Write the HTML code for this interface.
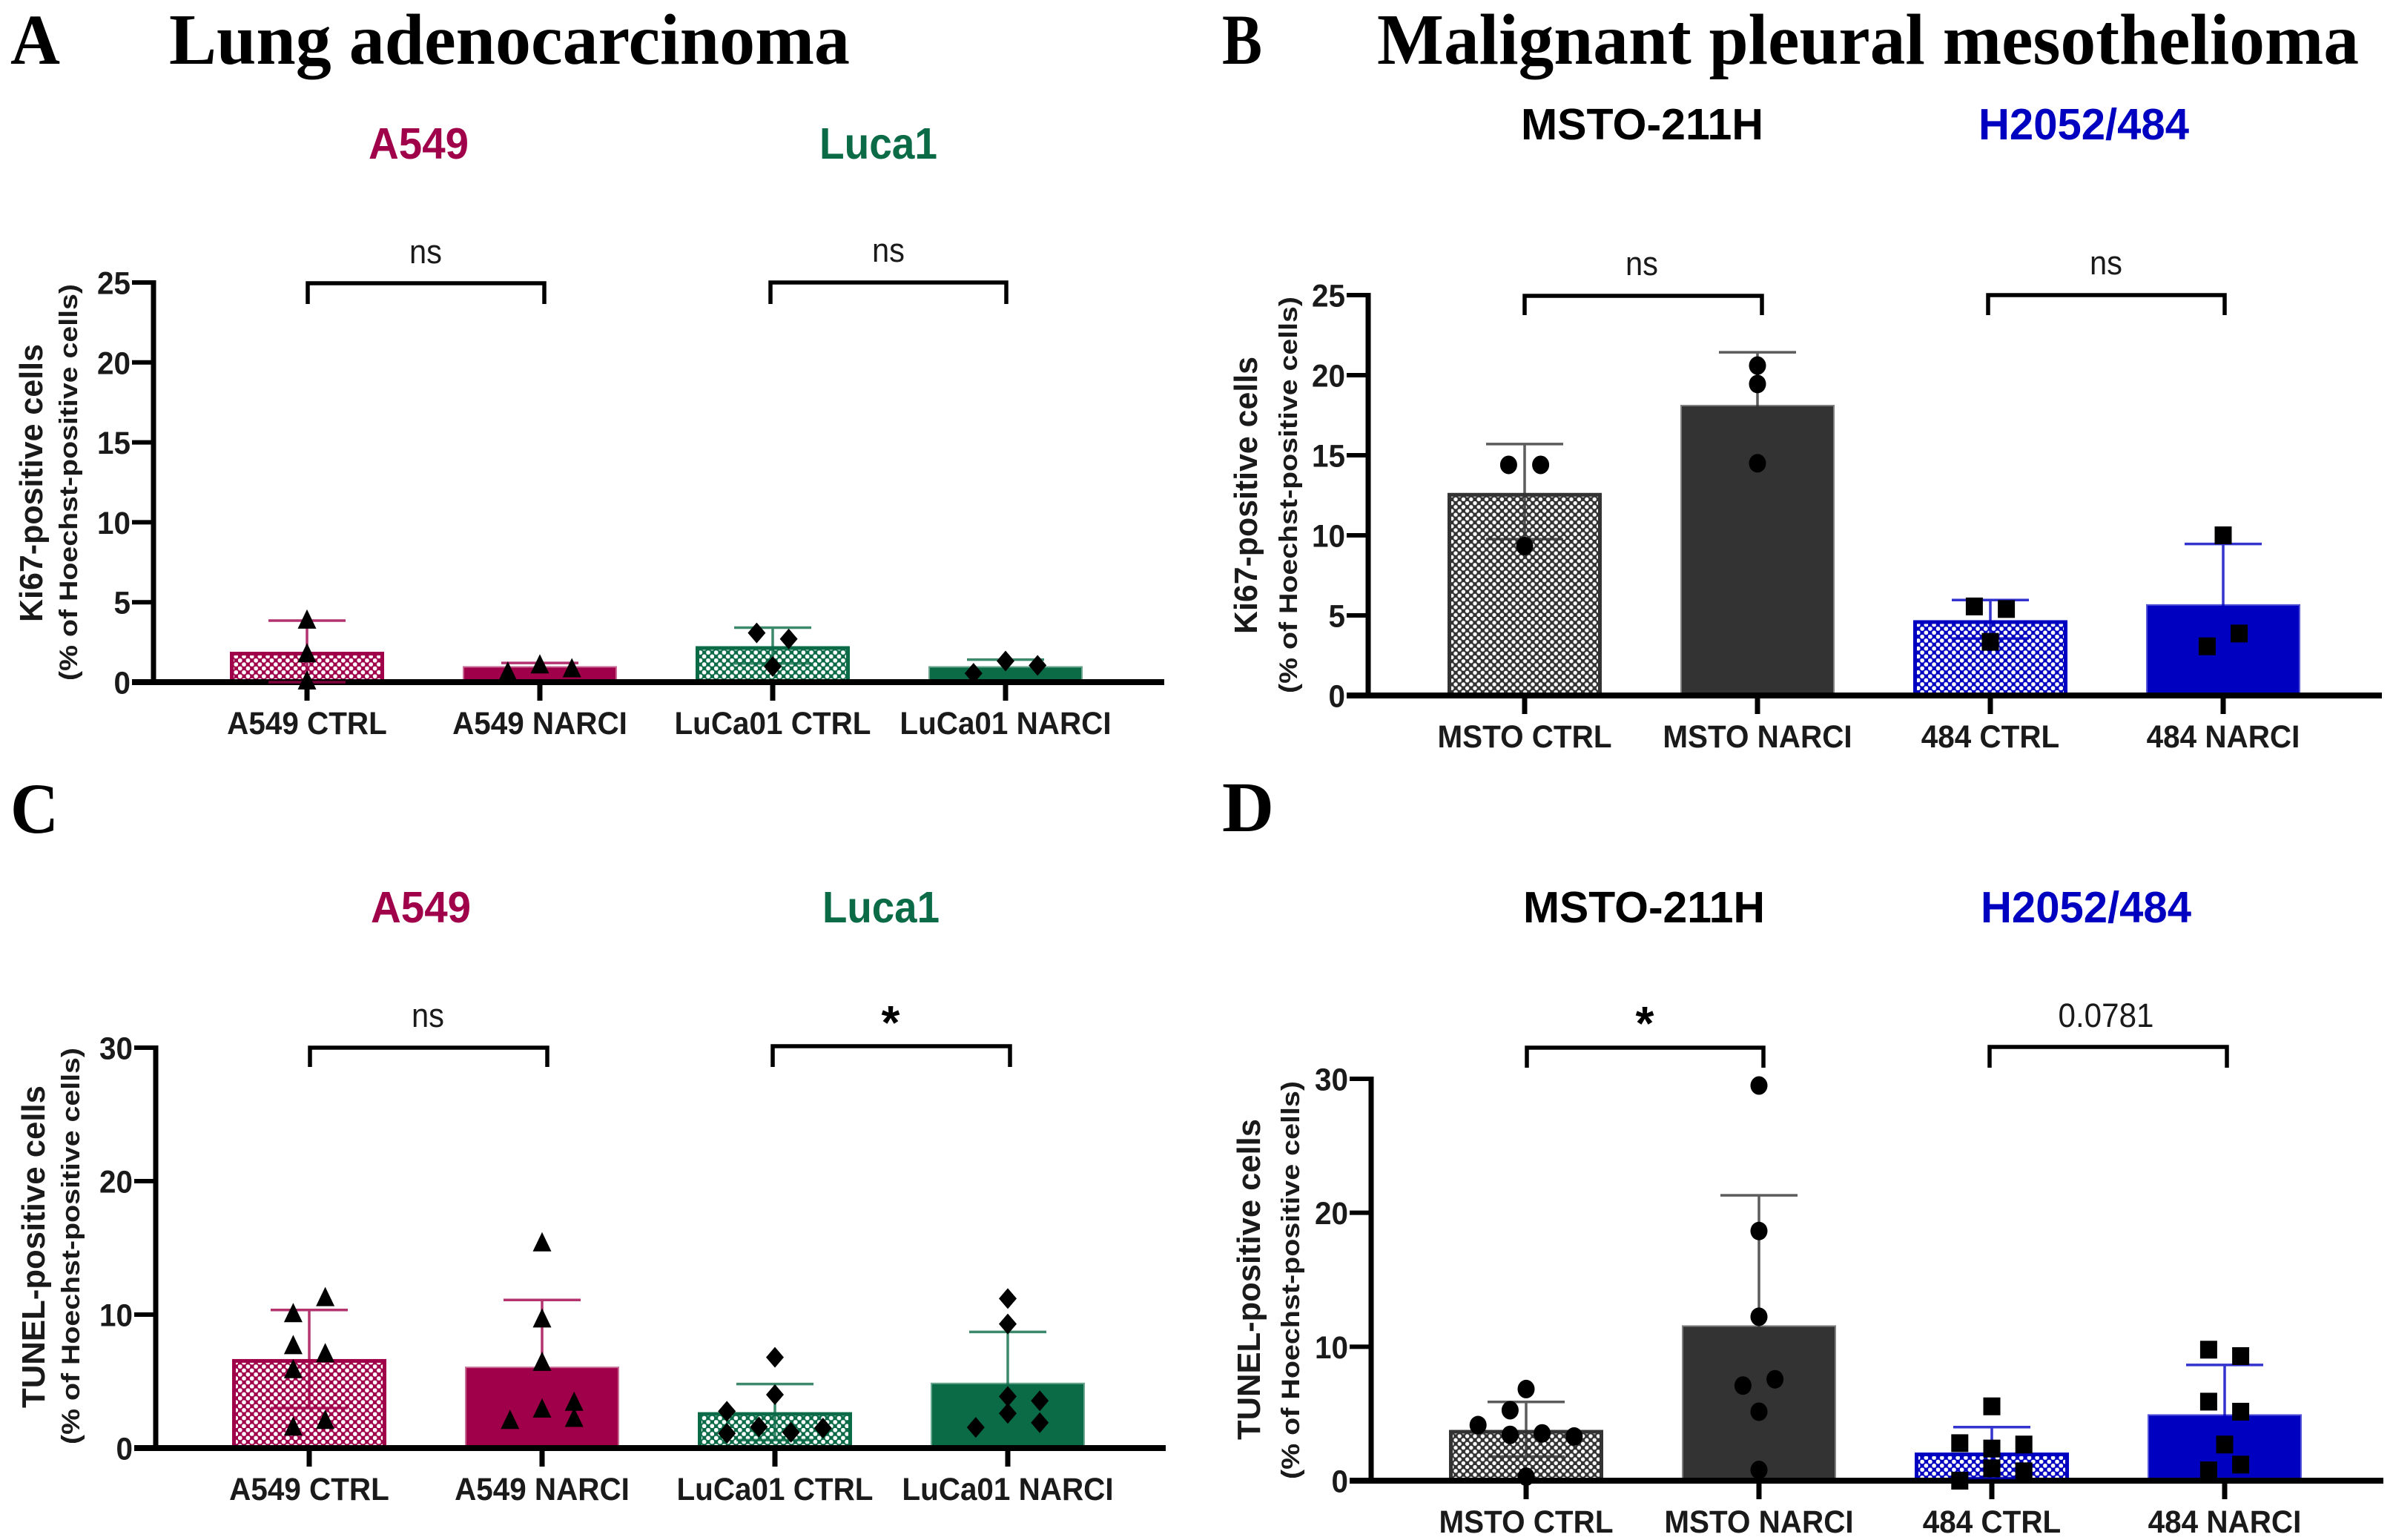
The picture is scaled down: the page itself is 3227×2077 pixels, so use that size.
<!DOCTYPE html>
<html lang="en">
<head>
<meta charset="utf-8">
<title>Ki67 and TUNEL staining in lung adenocarcinoma and malignant pleural mesothelioma</title>
<style>
html,body{margin:0;padding:0;background:#fff;}
svg{display:block;}
text{font-family:"Liberation Sans",sans-serif;}
.serif{font-family:"Liberation Serif",serif;font-weight:700;fill:#000;}
.grp{font-weight:700;font-size:59px;}
.sig{font-size:45px;fill:#1a1a1a;text-anchor:middle;}
.star{font-size:64px;font-weight:700;fill:#000;text-anchor:middle;}
.yt{font-weight:700;font-size:44px;fill:#1a1a1a;}
.ys{font-weight:700;font-size:34px;fill:#1a1a1a;}
.br{fill:none;stroke:#000;stroke-width:5.5;}
</style>
</head>
<body>
<svg id="fig" xmlns="http://www.w3.org/2000/svg" width="3227" height="2077" viewBox="0 0 3227 2077">
<defs>
<pattern id="hatch-magenta" patternUnits="userSpaceOnUse" width="10.7" height="10.7"><rect width="10.7" height="10.7" fill="#a0004a"/><circle cx="2.7" cy="2.7" r="2.9" fill="#fff"/><circle cx="8" cy="8" r="2.9" fill="#fff"/></pattern>
<pattern id="hatch-green" patternUnits="userSpaceOnUse" width="10.7" height="10.7"><rect width="10.7" height="10.7" fill="#0b6b47"/><circle cx="2.7" cy="2.7" r="2.9" fill="#fff"/><circle cx="8" cy="8" r="2.9" fill="#fff"/></pattern>
<pattern id="hatch-gray" patternUnits="userSpaceOnUse" width="10.4" height="10.4"><rect width="10.4" height="10.4" fill="#333"/><circle cx="2.6" cy="2.6" r="2.7" fill="#fff"/><circle cx="7.8" cy="7.8" r="2.7" fill="#fff"/></pattern>
<pattern id="hatch-blue" patternUnits="userSpaceOnUse" width="10.7" height="10.7"><rect width="10.7" height="10.7" fill="#0000c0"/><circle cx="2.7" cy="2.7" r="2.9" fill="#fff"/><circle cx="8" cy="8" r="2.9" fill="#fff"/></pattern>
</defs>

<text class="serif" x="14" y="86" font-size="96" textLength="67" lengthAdjust="spacingAndGlyphs">A</text>
<text class="serif" x="228" y="86" font-size="98" textLength="918" lengthAdjust="spacingAndGlyphs">Lung adenocarcinoma</text>
<text class="serif" x="1648" y="86" font-size="96" textLength="54" lengthAdjust="spacingAndGlyphs">B</text>
<text class="serif" x="1857" y="86" font-size="98" textLength="1324" lengthAdjust="spacingAndGlyphs">Malignant pleural mesothelioma</text>
<text class="serif" x="14" y="1123" font-size="96" textLength="65" lengthAdjust="spacingAndGlyphs">C</text>
<text class="serif" x="1648" y="1121" font-size="96" textLength="70" lengthAdjust="spacingAndGlyphs">D</text>

<text class="grp" x="497" y="214" fill="#a0004a" textLength="135" lengthAdjust="spacingAndGlyphs">A549</text>
<text class="grp" x="1105" y="214" fill="#0b6b47" textLength="159" lengthAdjust="spacingAndGlyphs">Luca1</text>
<text class="grp" x="2051" y="188" fill="#000" textLength="327" lengthAdjust="spacingAndGlyphs">MSTO-211H</text>
<text class="grp" x="2668" y="188" fill="#0000c0" textLength="284" lengthAdjust="spacingAndGlyphs">H2052/484</text>
<text class="grp" x="500" y="1244" fill="#a0004a" textLength="135" lengthAdjust="spacingAndGlyphs">A549</text>
<text class="grp" x="1109" y="1244" fill="#0b6b47" textLength="158" lengthAdjust="spacingAndGlyphs">Luca1</text>
<text class="grp" x="2054" y="1244" fill="#000" textLength="326" lengthAdjust="spacingAndGlyphs">MSTO-211H</text>
<text class="grp" x="2671" y="1244" fill="#0000c0" textLength="284" lengthAdjust="spacingAndGlyphs">H2052/484</text>

<text class="yt" transform="translate(57,839) rotate(-90)" textLength="375" lengthAdjust="spacingAndGlyphs">Ki67-positive cells</text>
<text class="ys" transform="translate(104,918) rotate(-90)" textLength="535" lengthAdjust="spacingAndGlyphs">(% of Hoechst-positive cells)</text>
<text class="yt" transform="translate(1695,855) rotate(-90)" textLength="374" lengthAdjust="spacingAndGlyphs">Ki67-positive cells</text>
<text class="ys" transform="translate(1749,935) rotate(-90)" textLength="535" lengthAdjust="spacingAndGlyphs">(% of Hoechst-positive cells)</text>
<text class="yt" transform="translate(60,1899) rotate(-90)" textLength="435" lengthAdjust="spacingAndGlyphs">TUNEL-positive cells</text>
<text class="ys" transform="translate(107,1948) rotate(-90)" textLength="535" lengthAdjust="spacingAndGlyphs">(% of Hoechst-positive cells)</text>
<text class="yt" transform="translate(1699,1942) rotate(-90)" textLength="433" lengthAdjust="spacingAndGlyphs">TUNEL-positive cells</text>
<text class="ys" transform="translate(1752,1995) rotate(-90)" textLength="537" lengthAdjust="spacingAndGlyphs">(% of Hoechst-positive cells)</text>

<path class="br" d="M415 410V382H734V410"/>
<path class="br" d="M1039 410V381H1357V410"/>
<path class="br" d="M2056 425V399H2376V425"/>
<path class="br" d="M2681 425V398H3000V425"/>
<path class="br" d="M418 1439V1413H738V1439"/>
<path class="br" d="M1042 1439V1411H1362V1439"/>
<path class="br" d="M2059 1440V1413H2378V1440"/>
<path class="br" d="M2683 1440V1412H3003V1440"/>

<text class="sig" x="574" y="355" textLength="44" lengthAdjust="spacingAndGlyphs">ns</text>
<text class="sig" x="1198" y="353" textLength="44" lengthAdjust="spacingAndGlyphs">ns</text>
<text class="sig" x="2214" y="371" textLength="44" lengthAdjust="spacingAndGlyphs">ns</text>
<text class="sig" x="2840" y="370" textLength="44" lengthAdjust="spacingAndGlyphs">ns</text>
<text class="sig" x="577" y="1385" textLength="44" lengthAdjust="spacingAndGlyphs">ns</text>
<text class="star" x="1201" y="1401">*</text>
<text class="star" x="2218" y="1402">*</text>
<text class="sig" x="2840" y="1385" textLength="129" lengthAdjust="spacingAndGlyphs">0.0781</text>
</svg>

<script>
// Panel A — Ki67, lung adenocarcinoma
const categoriesA = ['A549 CTRL', 'A549 NARCI', 'LuCa01 CTRL', 'LuCa01 NARCI'];
const yTicksA = [0, 5, 10, 15, 20, 25];
const meansA = [1.9, 1.0, 2.25, 1.0];
const errUpperA = [3.85, 1.2, 3.41, 1.41];
const errLowerA = [0, 0.8, 1.17, 0.6];
const pointsA = [[3.9, 1.8, 0.1], [0.65, 1.1, 0.86], [3.08, 2.7, 0.98], [0.55, 1.32, 1.05]];
const jitterA = [[0, 0, 0], [-2, 0, 2], [-1, 1, 0], [-2, 0, 2]];

// Panel B — Ki67, mesothelioma
const categoriesB = ['MSTO CTRL', 'MSTO NARCI', '484 CTRL', '484 NARCI'];
const yTicksB = [0, 5, 10, 15, 20, 25];
const meansB = [12.65, 18.15, 4.7, 5.7];
const errUpperB = [15.7, 21.43, 5.96, 9.46];
const errLowerB = [9.76, 14.9, 3.56, 1.9];
const pointsB = [[14.4, 14.4, 9.33], [20.6, 19.45, 14.5], [5.56, 5.4, 3.35], [10.0, 3.87, 3.07]];
const jitterB = [[-1, 1, 0], [0, 0, 0], [-1, 1, 0], [0, 1, -1]];

// Panel C — TUNEL, lung adenocarcinoma
const categoriesC = ['A549 CTRL', 'A549 NARCI', 'LuCa01 CTRL', 'LuCa01 NARCI'];
const yTicksC = [0, 10, 20, 30];
const meansC = [6.67, 6.1, 2.69, 4.9];
const errUpperC = [10.35, 11.1, 4.8, 8.7];
const errLowerC = [3.0, 1.1, 0.6, 1.1];
const pointsC = [[11.3, 10.1, 7.7, 7.1, 5.9, 2.1, 1.6], [15.4, 9.7, 6.45, 2.95, 3.46, 2.25, 2.1], [6.8, 4.0, 2.76, 1.58, 1.5, 1.1, 1.18], [11.2, 9.3, 3.87, 3.54, 2.6, 1.9, 1.55]];
const jitterC = [[1, -1, -1, 1, -1, 1, -1], [0, 0, 0, 0, 2, 2, -2], [0, 0, -3, -1, 3, -3, 1], [0, 0, 0, 2, 0, 2, -2]];

// Panel D — TUNEL, mesothelioma
const categoriesD = ['MSTO CTRL', 'MSTO NARCI', '484 CTRL', '484 NARCI'];
const yTicksD = [0, 10, 20, 30];
const meansD = [3.79, 11.6, 2.1, 4.96];
const errUpperD = [5.88, 21.3, 4.0, 8.64];
const errLowerD = [1.8, 1.9, 0.2, 1.3];
const pointsD = [[6.84, 5.26, 4.15, 3.42, 3.53, 3.3, 0.3], [29.5, 18.64, 12.24, 7.57, 7.1, 5.15, 0.8], [5.55, 2.8, 2.7, 2.4, 0.92, 0.7, 0], [9.78, 9.3, 5.9, 5.15, 2.7, 1.2, 0.77]];
const jitterD = [[0, -1, -3, -1, 1, 3, 0], [0, 0, 0, 1, -1, 0, 0], [0, -2, 2, 0, 0, 2, -2], [-1, 1, -1, 1, 0, 1, -1]];

const NS = 'http://www.w3.org/2000/svg';
const svgRoot = document.getElementById('fig');

function make(tag, attrs, parent) {
  const node = document.createElementNS(NS, tag);
  for (const k in attrs) node.setAttribute(k, attrs[k]);
  parent.appendChild(node);
  return node;
}

function drawMarker(kind, cx, cy, parent) {
  let node;
  if (kind === 'triangle') {
    node = make('polygon', {points: [cx - 12.5, cy + 12, cx + 12.5, cy + 12, cx, cy - 14].join(' '), fill: '#000'}, parent);
  } else if (kind === 'diamond') {
    node = make('polygon', {points: [cx - 12, cy, cx, cy - 14, cx + 12, cy, cx, cy + 14].join(' '), fill: '#000'}, parent);
  } else if (kind === 'circle') {
    node = make('ellipse', {cx: cx, cy: cy, rx: 11.5, ry: 12.5, fill: '#000'}, parent);
  } else {
    node = make('rect', {x: cx - 11.5, y: cy - 12, width: 23, height: 24, fill: '#000'}, parent);
  }
  return node;
}

function condense(label) {
  label.setAttribute('textLength', label.getComputedTextLength() * 0.94);
  label.setAttribute('lengthAdjust', 'spacingAndGlyphs');
}

function drawPanel(p) {
  const g = make('g', {}, svgRoot);
  
  
  const yScale = v => p.yBase - (v / p.yMax) * (p.yBase - p.yTop);
  const xScale = i => p.firstX + i * p.stepX;
  const barW = 208, capHalf = 52, slot = 21.6;

  // bars
  p.categories.forEach((name, i) => {
    const style = p.styles[i < 2 ? 0 : 1];
    const top = yScale(p.means[i]);
    const hatched = i % 2 === 0;
    const sw = hatched ? 5 : 2;
    const bar = make('rect', {
      x: xScale(i) - barW / 2 + sw / 2, y: top + sw / 2,
      width: barW - sw, height: Math.max(0, p.yBase - top - sw / 2),
      fill: hatched ? 'url(#' + style.hatch + ')' : style.color,
      stroke: hatched ? style.color : style.edge, 'stroke-width': sw
    }, g);
    
    
  });

  // y axis and ticks
  const yAxis = make('line', {x1: p.axisX, x2: p.axisX, y1: p.yTop - 3, y2: p.yBase + 4, stroke: '#000', 'stroke-width': 7}, g);
  
  
  p.yTicks.forEach(v => {
    const y = yScale(v);
    const tick = make('line', {x1: p.axisX - 29, x2: p.axisX, y1: y, y2: y, stroke: '#000', 'stroke-width': 6}, g);
    
    
    const label = make('text', {x: p.axisX - 31, y: y + 15.5, 'text-anchor': 'end', 'font-size': 43, 'font-weight': 700, fill: '#1a1a1a'}, g);
    label.textContent = v;
    
    
    condense(label);
  });

  // x axis and ticks
  const xAxis = make('line', {x1: p.axisX - 29, x2: p.baseEnd, y1: p.yBase, y2: p.yBase, stroke: '#000', 'stroke-width': 8}, g);
  
  
  p.categories.forEach((name, i) => {
    const x = xScale(i);
    const tick = make('line', {x1: x, x2: x, y1: p.yBase, y2: p.yBase + 25, stroke: '#000', 'stroke-width': 7}, g);
    
    
    const label = make('text', {x: x, y: p.yBase + 70, 'text-anchor': 'middle', 'font-size': 43, 'font-weight': 700, fill: '#1a1a1a'}, g);
    label.textContent = name;
    
    
    condense(label);
  });

  // error bars
  p.categories.forEach((name, i) => {
    const style = p.styles[i < 2 ? 0 : 1];
    const x = xScale(i), yu = yScale(p.upper[i]), yl = yScale(p.lower[i]);
    const err = make('path', {
      d: 'M' + (x - capHalf) + ' ' + yu + 'H' + (x + capHalf) + 'M' + x + ' ' + yu + 'V' + yl + 'M' + (x - capHalf) + ' ' + yl + 'H' + (x + capHalf),
      fill: 'none', stroke: style.color, 'stroke-width': 3.5, 'stroke-opacity': 0.8
    }, g);
    
    
  });

  // individual data points
  p.categories.forEach((name, i) => {
    const style = p.styles[i < 2 ? 0 : 1];
    p.points[i].forEach((v, j) => {
      const mark = drawMarker(style.marker, xScale(i) + p.jitter[i][j] * slot, yScale(v), g);
      
      
    });
  });
}

const lungStyles = [
  {color: '#a0004a', edge: '#c76a94', hatch: 'hatch-magenta', marker: 'triangle'},
  {color: '#0b6b47', edge: '#6aa58d', hatch: 'hatch-green', marker: 'diamond'}
];
const mesoStyles = [
  {color: '#333333', edge: '#808080', hatch: 'hatch-gray', marker: 'circle'},
  {color: '#0000c0', edge: '#5555d8', hatch: 'hatch-blue', marker: 'square'}
];

drawPanel({key: 'a', categories: categoriesA, yTicks: yTicksA, means: meansA, upper: errUpperA, lower: errLowerA, points: pointsA, jitter: jitterA,
  styles: lungStyles, axisX: 207, yBase: 920, yTop: 381, yMax: 25, firstX: 414, stepX: 314, baseEnd: 1570});
drawPanel({key: 'b', categories: categoriesB, yTicks: yTicksB, means: meansB, upper: errUpperB, lower: errLowerB, points: pointsB, jitter: jitterB,
  styles: mesoStyles, axisX: 1845, yBase: 938, yTop: 398, yMax: 25, firstX: 2056, stepX: 314, baseEnd: 3212});
drawPanel({key: 'c', categories: categoriesC, yTicks: yTicksC, means: meansC, upper: errUpperC, lower: errLowerC, points: pointsC, jitter: jitterC,
  styles: lungStyles, axisX: 210, yBase: 1953, yTop: 1413, yMax: 30, firstX: 417, stepX: 314, baseEnd: 1572});
drawPanel({key: 'd', categories: categoriesD, yTicks: yTicksD, means: meansD, upper: errUpperD, lower: errLowerD, points: pointsD, jitter: jitterD,
  styles: mesoStyles, axisX: 1849, yBase: 1997, yTop: 1455, yMax: 30, firstX: 2058, stepX: 314, baseEnd: 3214});
</script>
</body>
</html>
